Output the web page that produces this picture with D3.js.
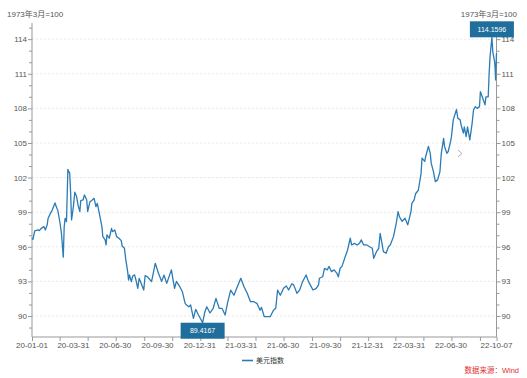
<!DOCTYPE html>
<html><head><meta charset="utf-8">
<script src="https://cdn.jsdelivr.net/npm/d3@7"></script>
<style>
body{margin:0;background:#fff}
svg{display:block}
text{font-family:"Liberation Sans","Noto Sans CJK SC",sans-serif}
</style>
</head><body>
<svg id="c" width="527" height="378"></svg>
<script>
const dates = ["2020-01-01","2020-01-03","2020-01-07","2020-01-14","2020-01-17","2020-01-21","2020-01-27","2020-01-30","2020-02-03","2020-02-05","2020-02-12","2020-02-14","2020-02-20","2020-02-24","2020-02-26","2020-03-02","2020-03-05","2020-03-09","2020-03-11","2020-03-13","2020-03-16","2020-03-19","2020-03-23","2020-03-25","2020-03-27","2020-03-31","2020-04-03","2020-04-07","2020-04-10","2020-04-14","2020-04-16","2020-04-21","2020-04-24","2020-04-29","2020-05-01","2020-05-06","2020-05-11","2020-05-15","2020-05-19","2020-05-22","2020-05-27","2020-06-01","2020-06-03","2020-06-08","2020-06-10","2020-06-12","2020-06-17","2020-06-22","2020-06-24","2020-06-29","2020-07-01","2020-07-03","2020-07-08","2020-07-13","2020-07-15","2020-07-20","2020-07-23","2020-07-27","2020-07-29","2020-07-31","2020-08-04","2020-08-07","2020-08-11","2020-08-14","2020-08-18","2020-08-21","2020-08-31","2020-09-03","2020-09-08","2020-09-17","2020-09-25","2020-10-02","2020-10-09","2020-10-14","2020-10-20","2020-10-30","2020-11-06","2020-11-10","2020-11-18","2020-11-23","2020-11-29","2020-12-02","2020-12-07","2020-12-11","2020-12-17","2020-12-22","2020-12-28","2021-01-06","2021-01-11","2021-01-15","2021-01-22","2021-01-29","2021-02-04","2021-02-11","2021-02-17","2021-02-24","2021-03-01","2021-03-08","2021-03-15","2021-03-22","2021-03-30","2021-04-06","2021-04-13","2021-04-20","2021-04-27","2021-05-04","2021-05-11","2021-05-14","2021-05-20","2021-05-26","2021-06-02","2021-06-09","2021-06-14","2021-06-18","2021-06-24","2021-07-01","2021-07-07","2021-07-12","2021-07-19","2021-07-23","2021-07-30","2021-08-05","2021-08-10","2021-08-13","2021-08-19","2021-08-24","2021-08-30","2021-09-03","2021-09-10","2021-09-15","2021-09-17","2021-09-24","2021-09-28","2021-10-04","2021-10-08","2021-10-13","2021-10-19","2021-10-25","2021-10-28","2021-11-01","2021-11-05","2021-11-12","2021-11-17","2021-11-23","2021-11-26","2021-12-02","2021-12-08","2021-12-13","2021-12-17","2021-12-22","2021-12-29","2022-01-04","2022-01-10","2022-01-13","2022-01-19","2022-01-24","2022-01-27","2022-01-31","2022-02-03","2022-02-09","2022-02-14","2022-02-18","2022-02-25","2022-03-03","2022-03-07","2022-03-10","2022-03-16","2022-03-22","2022-03-28","2022-04-04","2022-04-06","2022-04-11","2022-04-14","2022-04-20","2022-04-26","2022-04-28","2022-05-04","2022-05-06","2022-05-12","2022-05-16","2022-05-18","2022-05-23","2022-05-27","2022-06-01","2022-06-06","2022-06-09","2022-06-14","2022-06-16","2022-06-21","2022-06-24","2022-06-29","2022-07-01","2022-07-05","2022-07-12","2022-07-15","2022-07-20","2022-07-22","2022-07-27","2022-07-29","2022-08-02","2022-08-05","2022-08-10","2022-08-15","2022-08-18","2022-08-22","2022-08-26","2022-08-31","2022-09-02","2022-09-07","2022-09-12","2022-09-14","2022-09-19","2022-09-21","2022-09-23","2022-09-27","2022-09-29","2022-10-03","2022-10-04","2022-10-05","2022-10-07"];
const values = [96.74,96.65,97.37,97.46,97.4,97.6,97.75,97.46,97.9,98.47,99.05,99.19,99.8,99.34,99.19,98.04,97.17,95.1,97.75,98.47,98.18,102.7,102.37,100.64,98.33,99.48,100.73,100.35,99.63,99.05,100.0,100.06,100.49,100.06,99.05,99.91,100.06,100.2,99.48,99.77,98.76,97.75,96.88,96.59,96.16,97.03,96.74,97.6,97.31,97.46,97.17,96.88,96.74,96.53,96.07,95.87,94.86,93.85,93.12,93.56,92.98,93.47,93.56,93.12,92.4,93.27,92.25,93.5,93.4,92.98,94.57,93.7,93.0,93.55,92.83,94.0,92.4,93.0,92.5,92.1,91.1,90.95,90.8,90.95,89.8,90.58,90.09,89.4167,90.37,90.8,90.26,90.67,91.53,90.67,90.67,90.09,91.1,92.25,91.8,92.5,93.27,92.54,91.97,91.24,91.24,91.1,90.5,90.75,89.94,89.94,89.94,90.5,90.67,92.25,91.8,92.4,92.6,92.25,92.8,92.7,91.97,92.25,92.83,93.1,93.56,93.0,92.55,92.25,92.4,92.7,93.27,93.4,94.13,94.0,94.3,93.85,94.0,93.7,93.4,94.14,94.3,95.14,95.7,96.74,96.16,96.3,96.16,96.3,96.6,96.16,96.16,96.0,95.87,95.0,95.58,95.87,97.17,96.3,95.58,95.44,96.0,96.16,96.88,98.04,99.05,98.6,98.2,98.48,97.9,99.05,99.77,100.06,100.6,100.9,102.37,103.68,103.4,103.83,104.7,104.1,103.25,102.5,101.65,101.8,102.5,104.1,105.4,104.7,104.1,104.26,105.1,105.55,107.0,107.9,107.14,107.0,106.56,105.85,106.4,105.55,106.4,105.27,106.7,107.86,108.15,108.0,108.15,109.45,108.9,108.3,109.0,109.0,111.05,112.5,114.1596,112.9,112.0,111.48,110.47,112.8];
const yTicks = [90,93,96,99,102,105,108,111,114];
const xTickLabels = ["2020-01-01","2020-03-31","2020-06-30","2020-09-30","2020-12-31","2021-03-31","2021-06-30","2021-09-30","2021-12-31","2022-03-31","2022-06-30","2022-10-07"];
const seriesName = "美元指数";
const unitLabel = "1973年3月=100";
const sourceLabel = "数据来源：Wind";

const parse = d3.timeParse("%Y-%m-%d");
const data = dates.map((d,i)=>({date:parse(d), value:values[i]}));
const L = 32, R = 496.5, T = 23, B = 337;
const x = d3.scaleTime().domain([parse(xTickLabels[0]), parse(xTickLabels[xTickLabels.length-1])]).range([L,R]);
const y = d3.scaleLinear().domain([88.18,115.4]).range([B,T]);
const svg = d3.select("#c");
const lineColor = "#2b7bb5", boxColor = "#1f6e9c", axisColor = "#999", textColor = "#555";

// grid
svg.append("g").selectAll("line").data(yTicks).join("line")
  .attr("x1",L).attr("x2",R).attr("y1",d=>y(d)).attr("y2",d=>y(d))
  .attr("stroke","#e2e2e2").attr("stroke-dasharray","2,2").attr("stroke-width",0.8);

function styleAxis(g){
  g.selectAll("path,line").attr("stroke",axisColor);
  g.selectAll("text").attr("fill",textColor).style("font-size","8px");
}
const minor = d3.range(89,116).filter(v=>!yTicks.includes(v));
// left axis
svg.append("g").attr("transform",`translate(${L},0)`)
  .call(d3.axisLeft(y).tickValues(yTicks).tickSize(4).tickSizeOuter(0).tickPadding(1).tickFormat(d3.format("d")))
  .call(styleAxis).call(g=>g.select(".domain").attr("d",`M0,${T}V${B}`));
svg.append("g").attr("transform",`translate(${L},0)`)
  .call(d3.axisLeft(y).tickValues(minor).tickSize(3).tickSizeOuter(0).tickFormat(""))
  .call(styleAxis).call(g=>g.select(".domain").remove());
// right axis
svg.append("g").attr("transform",`translate(${R},0)`)
  .call(d3.axisRight(y).tickValues(yTicks).tickSize(4).tickSizeOuter(0).tickPadding(1).tickFormat(d3.format("d")))
  .call(styleAxis).call(g=>g.select(".domain").attr("d",`M0,${T}V${B}`));
svg.append("g").attr("transform",`translate(${R},0)`)
  .call(d3.axisRight(y).tickValues(minor).tickSize(3).tickSizeOuter(0).tickFormat(""))
  .call(styleAxis).call(g=>g.select(".domain").remove());
// bottom axis
const xt = d3.timeMonth.every(2).range(x.domain()[0], x.domain()[1]).concat([x.domain()[1]]);
svg.append("g").attr("transform",`translate(0,${B})`)
  .call(d3.axisBottom(x).tickValues(xt).tickSize(4).tickSizeOuter(0).tickFormat(""))
  .call(styleAxis).call(g=>g.select(".domain").attr("d",`M${L},0H${R}`));
const fmt = d3.timeFormat("%y-%m-%d");
svg.append("g").selectAll("text").data(xTickLabels.map(parse)).join("text")
  .attr("x",d=>x(d)).attr("y",B+11).attr("text-anchor","middle")
  .attr("fill",textColor).style("font-size","8px").text(d=>fmt(d));

// unit labels
svg.append("text").attr("x",7).attr("y",17).attr("fill",textColor).style("font-size","8px").text(unitLabel);
svg.append("text").attr("x",517).attr("y",17).attr("text-anchor","end").attr("fill",textColor).style("font-size","8px").text(unitLabel);

// line
svg.append("path").datum(data)
  .attr("d",d3.line().x(d=>x(d.date)).y(d=>y(d.value)))
  .attr("fill","none").attr("stroke",lineColor).attr("stroke-width",1.3).attr("stroke-linejoin","round");

// min / max markers
const minD = data.reduce((a,b)=>b.value<a.value?b:a);
const maxD = data.reduce((a,b)=>b.value>a.value?b:a);
function box(d, above, w){
  const cx = x(d.date), py = y(d.value);
  const h = 16, top = above ? py - h : py;
  const g = svg.append("g");
  g.append("rect").attr("x",cx-w/2).attr("y",top).attr("width",w).attr("height",h).attr("fill",boxColor);
  g.append("text").attr("x",cx).attr("y",top+h/2+2.5).attr("text-anchor","middle")
    .attr("fill","#fff").style("font-size","7px").text(d.value.toFixed(4));
}
box(minD,false,44);
box(maxD,true,44);

// chevron
svg.append("path").attr("d","M458,150L462,153.5L458,157").attr("fill","none").attr("stroke","#b0b0b0").attr("stroke-width",1);

// legend
svg.append("line").attr("x1",242).attr("x2",253).attr("y1",360.5).attr("y2",360.5).attr("stroke",lineColor).attr("stroke-width",1.6);
svg.append("text").attr("x",256).attr("y",363).attr("fill","#333").style("font-size","7px").text(seriesName);

// source
svg.append("text").attr("x",519).attr("y",373).attr("text-anchor","end").attr("fill","#e0312f").style("font-size","7.5px").text(sourceLabel);
</script>
</body></html>
